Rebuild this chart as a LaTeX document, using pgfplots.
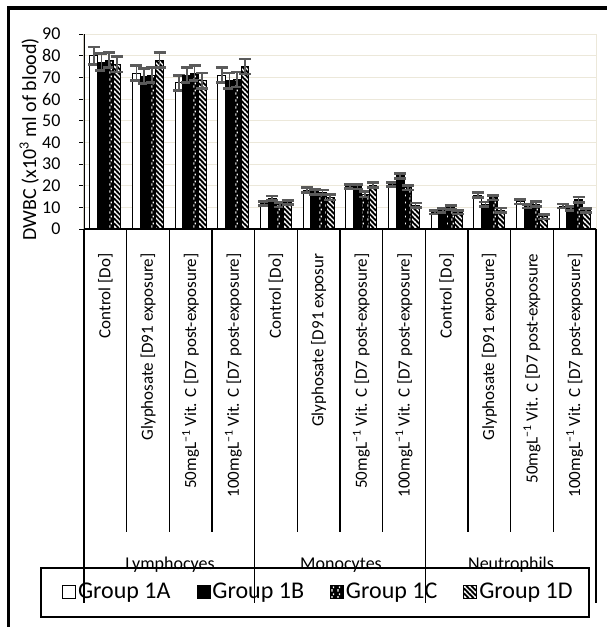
\documentclass[border=0pt]{standalone}
\usepackage{fontspec}
\setmainfont{Carlito}
\usepackage{pgfplots}
\usepackage{pgfplotstable}
\pgfplotsset{compat=1.18}
\usetikzlibrary{patterns}
\definecolor{gridc}{RGB}{236,232,218}
\definecolor{errc}{RGB}{90,90,90}
\pgfdeclarepatternformonly{dstripes}{\pgfqpoint{-1pt}{-1pt}}{\pgfqpoint{6pt}{6pt}}{\pgfqpoint{5pt}{5pt}}{%
  \pgfsetlinewidth{1.1pt}\pgfpathmoveto{\pgfqpoint{-0.5pt}{5.5pt}}\pgfpathlineto{\pgfqpoint{5.5pt}{-0.5pt}}\pgfusepath{stroke}}
\pgfdeclarepatternformonly{confetti}{\pgfqpoint{0pt}{0pt}}{\pgfqpoint{6pt}{7pt}}{\pgfqpoint{6pt}{7pt}}{%
  \pgfpathrectangle{\pgfqpoint{1.5pt}{0.5pt}}{\pgfqpoint{1.3pt}{2.6pt}}%
  \pgfpathrectangle{\pgfqpoint{3.2pt}{4.2pt}}{\pgfqpoint{1.3pt}{1.8pt}}\pgfusepath{fill}}

\pgfplotstableread{
x a ae b be c ce d de
0 80 4 77 4 78 3.5 76 3.5
1 72 3.5 70.5 3.5 71 3.5 78 3.5
2 67.5 3.5 71 3.5 72 3.5 68.5 3.5
3 71 3.5 68.5 3.5 69 3.5 75 3.5
4 11.7 1 14.2 1 11.2 1 12.2 1
5 18 1 17.1 1 17 1 14.6 1.2
6 19.6 1 19.5 1 16 1.2 20.2 1.2
7 20.5 1 24.5 1.3 19 1 11 1
8 7.7 0.8 8.5 0.8 10 0.9 7.7 0.8
9 15.6 1.2 11.5 1 14.5 1.1 8.7 1
10 12.5 1 10.5 0.8 11.5 1.2 5.6 1
11 10.6 0.9 9.5 0.8 13.5 1.3 8.6 0.9
}\data

\begin{document}
\begin{tikzpicture}
\path[use as bounding box] (0pt,0pt) rectangle (607pt,-627pt);
\begin{axis}[
  at={(84pt,-229pt)}, anchor=south west,
  scale only axis, width=512pt, height=195pt,
  xmin=-0.5, xmax=11.5, ymin=0, ymax=90,
  ybar=0pt, bar width=0.18,
  ytick={0,10,...,90},
  ymajorgrids, grid style={gridc, line width=1pt},
  axis line style={gridc, line width=1pt},
  xtick={0,...,11},
  xticklabels={{Control [Do]},{Glyphosate [D91 exposure]},{50mgL\textsuperscript{−1} Vit. C [D7 post-exposure]},{100mgL\textsuperscript{−1} Vit. C [D7 post-exposure]},
               {Control [Do]},{Glyphosate [D91 exposur},{50mgL\textsuperscript{−1} Vit. C [D7 post-exposure]},{100mgL\textsuperscript{−1} Vit. C [D7 post-exposure]},
               {Control [Do]},{Glyphosate [D91 exposure]},{50mgL\textsuperscript{−1} Vit. C [D7 post-exposure},{100mgL\textsuperscript{−1} Vit. C [D7 post-exposure]}},
  x tick style={draw=none},
  ytick pos=left, tick align=outside, major tick length=5pt,
  y tick style={black, line width=1pt},
  /pgf/number format/assume math mode=true,
  xticklabel style={rotate=90, anchor=east, font=\fontsize{17}{17}\selectfont},
  xticklabel shift=16pt,
  yticklabel style={font=\fontsize{18}{18}\selectfont},
  yticklabel shift=15pt,
  ylabel={DWBC (x10\textsuperscript{3} ml of blood)},
  ylabel style={font=\fontsize{20}{20}\selectfont, at={(axis description cs:-0.107,0.46)}, anchor=center},
  legend columns=4,
  legend style={draw=none, fill=none, at={(axis description cs:-0.043,-1.86)}, anchor=west,
    font=\fontsize{24}{24}\selectfont, inner sep=0pt, nodes={inner sep=1pt},
    /tikz/every odd column/.append style={column sep=1pt},
    /tikz/every even column/.append style={column sep=25pt}},
  legend cell align=left,
  every axis plot post/.append style={legend image code/.code={\draw[##1, line width=0.9pt] (0pt,-6.5pt) rectangle (13pt,6.5pt);}},
  error bars/y dir=both, error bars/y explicit,
  error bars/error bar style={errc, line width=1.8pt},
  error bars/error mark options={rotate=90, errc, mark size=6pt, line width=2.8pt},
]
\addplot[draw=black, fill=white, line width=1pt] table[x=x, y=a, y error=ae] {\data};
\addplot[draw=black, fill=black, line width=1pt] table[x=x, y=b, y error=be] {\data};
\addplot[draw=black, fill=black, line width=1pt, postaction={pattern=confetti, pattern color=white}] table[x=x, y=c, y error=ce] {\data};
\addplot[draw=black, fill=black, line width=1pt, postaction={pattern=dstripes, pattern color=white}] table[x=x, y=d, y error=de] {\data};
\legend{Group 1A, Group 1B, Group 1C, Group 1D}
\draw[black, line width=1.3pt] (rel axis cs:0,1) -- (rel axis cs:0,0) -- (rel axis cs:1,0);
\end{axis}
% category box lines
\foreach \k in {1,2,3,5,6,7,9,10,11} \draw[line width=1.1pt] ({84pt+42.667pt*\k},-229pt) -- ({84pt+42.667pt*\k},-532pt);
\foreach \k in {0,4,8,12} \draw[line width=1.1pt] ({84pt+42.667pt*\k},-229pt) -- ({84pt+42.667pt*\k},-603pt);
\node[font=\fontsize{18}{18}\selectfont] at (170pt,-565pt) {Lymphocyes};
\node[font=\fontsize{18}{18}\selectfont] at (341pt,-565pt) {Monocytes};
\node[font=\fontsize{18}{18}\selectfont] at (511pt,-565pt) {Neutrophils};
\draw[line width=1.2pt] (41pt,-568pt) rectangle (589pt,-617pt);
% outer frame
\draw[line width=3.5pt] (8.5pt,-627pt) -- (8.5pt,-8pt) -- (607pt,-8pt);
\end{tikzpicture}
\end{document}
